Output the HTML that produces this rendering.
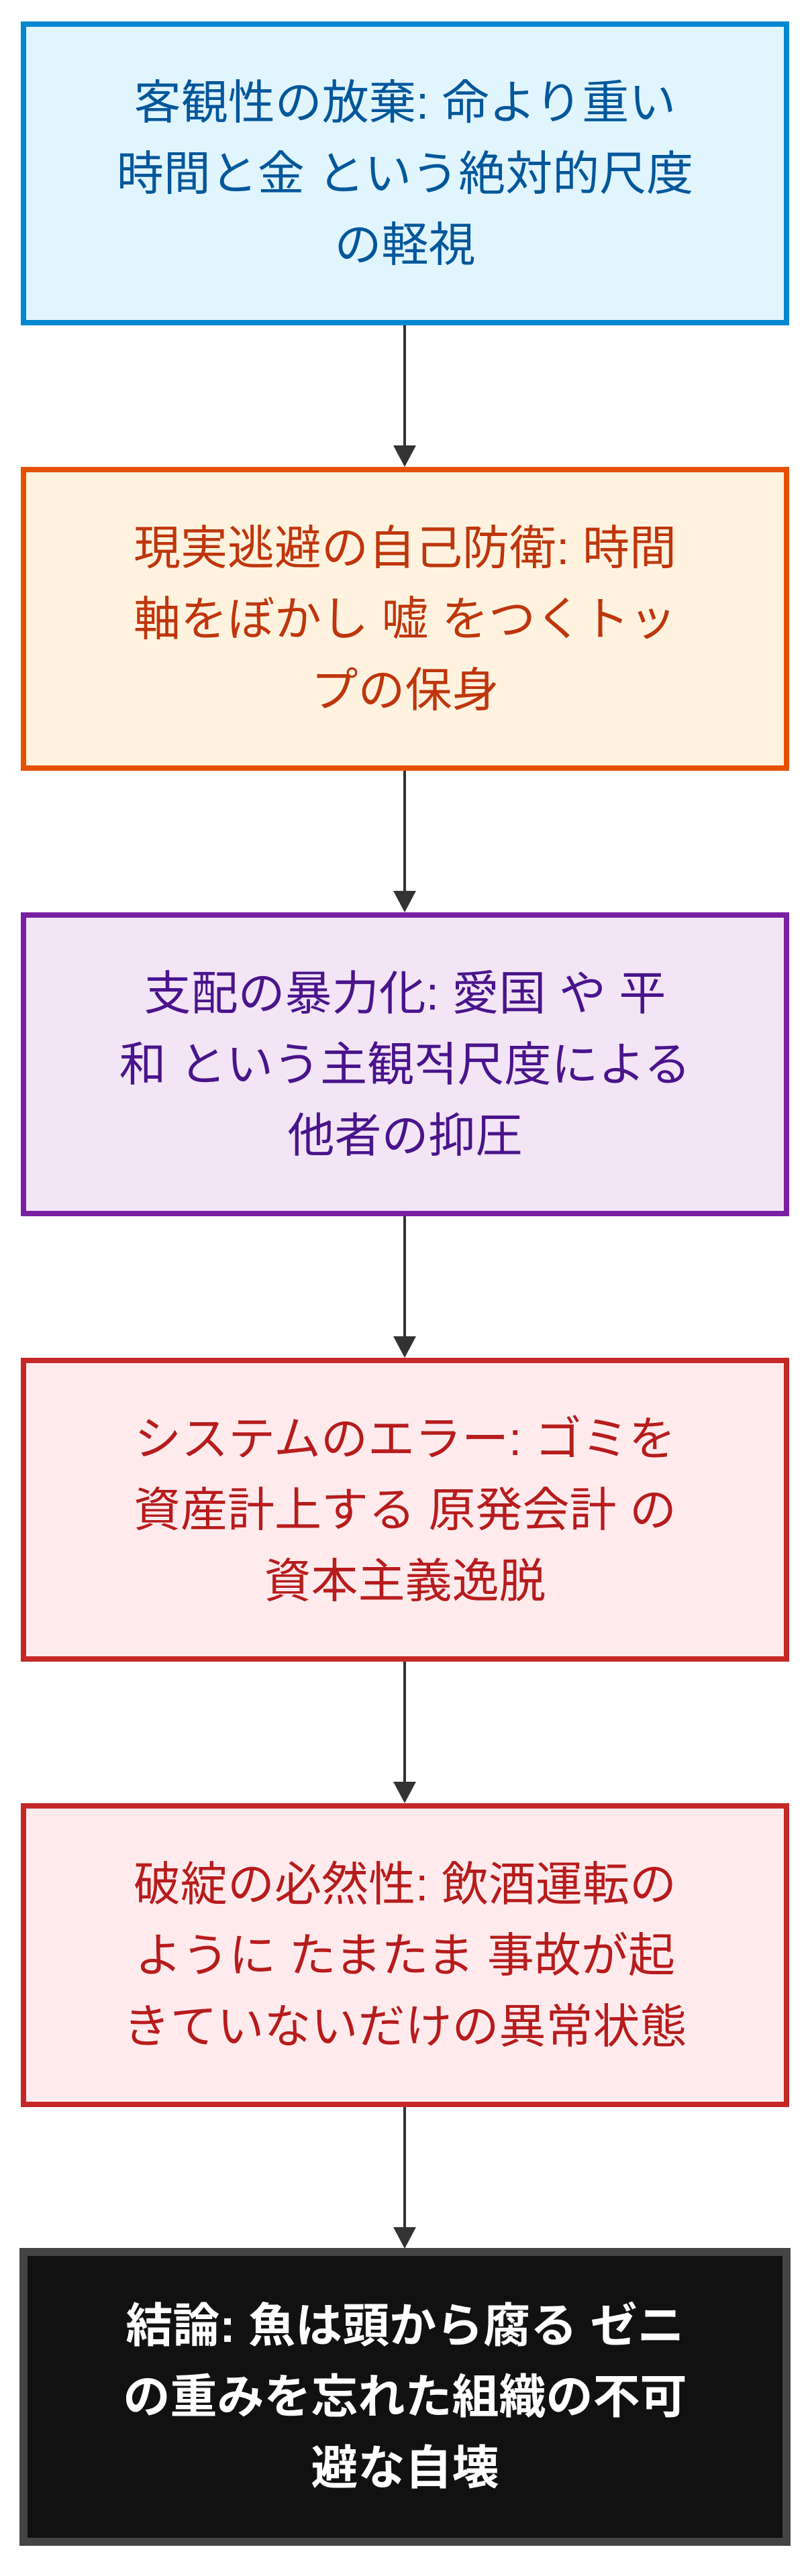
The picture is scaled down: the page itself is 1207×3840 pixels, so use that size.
<!DOCTYPE html>
<html><head><meta charset="utf-8"><style>
html,body{margin:0;padding:0;background:#fff;}
body{width:1207px;height:3840px;position:relative;overflow:hidden;}
.b{position:absolute;left:31px;width:1145px;height:453px;box-sizing:border-box;border:8px solid;display:flex;align-items:center;justify-content:center;text-align:center;font-family:"Liberation Sans","Noto Sans CJK JP",sans-serif;font-size:70px;line-height:106px;white-space:nowrap;}
.l{position:absolute;left:601px;width:4px;background:#333;}
.a{position:absolute;left:586px;width:0;height:0;border-left:17px solid transparent;border-right:17px solid transparent;border-top:32px solid #333;}
</style></head><body>
<div class="b" style="top:32px;background:#e1f5fe;border-color:#0288d1;color:#01579b">客観性の放棄: 命より重い<br>時間と金 という絶対的尺度<br>の軽視</div>
<div class="l" style="top:485px;height:180px"></div><div class="a" style="top:664px"></div>
<div class="b" style="top:696px;background:#fff3e0;border-color:#e65100;color:#bf360c">現実逃避の自己防衛: 時間<br>軸をぼかし 嘘 をつくトッ<br>プの保身</div>
<div class="l" style="top:1149px;height:180px"></div><div class="a" style="top:1328px"></div>
<div class="b" style="top:1360px;background:#f3e5f5;border-color:#7b1fa2;color:#4a148c">支配の暴力化: 愛国 や 平<br>和 という主観적尺度による<br>他者の抑圧</div>
<div class="l" style="top:1813px;height:180px"></div><div class="a" style="top:1992px"></div>
<div class="b" style="top:2024px;background:#ffebee;border-color:#c62828;color:#b71c1c">システムのエラー: ゴミを<br>資産計上する 原発会計 の<br>資本主義逸脱</div>
<div class="l" style="top:2477px;height:180px"></div><div class="a" style="top:2656px"></div>
<div class="b" style="top:2688px;background:#ffebee;border-color:#c62828;color:#b71c1c">破綻の必然性: 飲酒運転の<br>ように たまたま 事故が起<br>きていないだけの異常状態</div>
<div class="l" style="top:3141px;height:180px"></div><div class="a" style="top:3320px"></div>
<div class="b" style="top:3351px;left:29px;width:1149px;height:444px;border-width:12px;background:#111;border-color:#444;color:#fff;font-weight:bold">結論: 魚は頭から腐る ゼニ<br>の重みを忘れた組織の不可<br>避な自壊</div>
</body></html>
